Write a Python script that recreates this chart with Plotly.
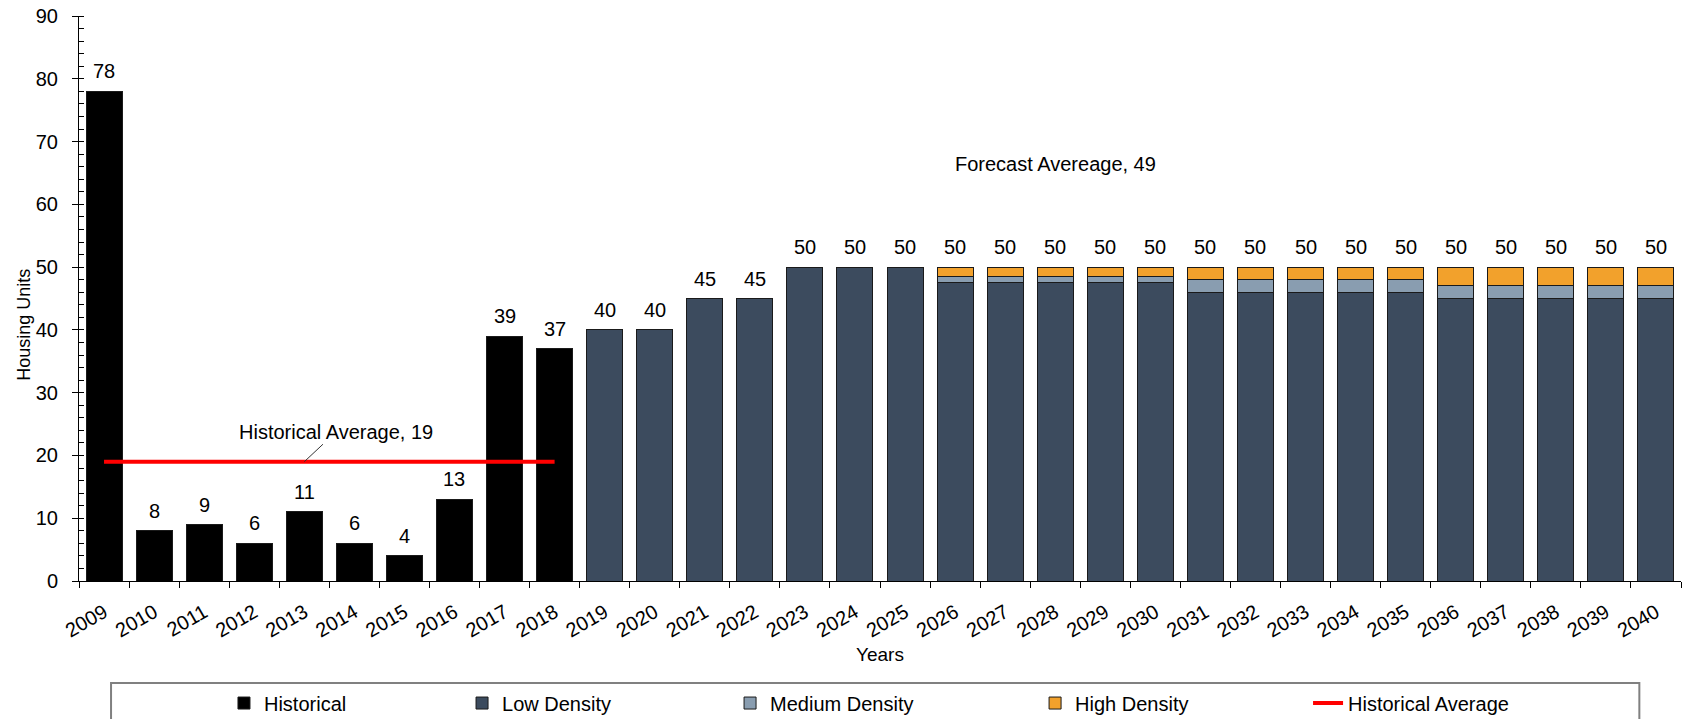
import plotly.graph_objects as go

# ---- data -------------------------------------------------------------
hist_years = ["2009", "2010", "2011", "2012", "2013", "2014", "2015", "2016", "2017", "2018"]
hist_units = [78, 8, 9, 6, 11, 6, 4, 13, 39, 37]

fc_years = [str(y) for y in range(2019, 2041)]
low_density = [40, 40, 45, 45, 50, 50, 50,
               47.5, 47.5, 47.5, 47.5, 47.5,
               46, 46, 46, 46, 46,
               45, 45, 45, 45, 45]
medium_density = [0, 0, 0, 0, 0, 0, 0,
                  1, 1, 1, 1, 1,
                  2, 2, 2, 2, 2,
                  2, 2, 2, 2, 2]
high_density = [0, 0, 0, 0, 0, 0, 0,
                1.5, 1.5, 1.5, 1.5, 1.5,
                2, 2, 2, 2, 2,
                3, 3, 3, 3, 3]

hist_avg = 19
hist_avg_span = ["2009", "2018"]
forecast_avg = 49

all_years = hist_years + fc_years
fc_totals = [round(l + m + h) for l, m, h in zip(low_density, medium_density, high_density)]


def cat_index(year):
    """Position of a year on the category axis (annotations need the index)."""
    return all_years.index(year)


# ---- styling ----------------------------------------------------------
FONT = "Arial, Liberation Sans, Helvetica, sans-serif"
C_HIST = "#000000"
C_LOW = "#3c4b5e"
C_MED = "#899db0"
C_HIGH = "#f2a12c"
C_AVG = "#ff0000"
OUTLINE = dict(color="#1a1a1a", width=1)

fig = go.Figure()

fig.add_trace(go.Bar(x=hist_years, y=hist_units, name="Historical", legend="legend",
                     marker=dict(color=C_HIST, line=OUTLINE)))
fig.add_trace(go.Bar(x=fc_years, y=low_density, name="Low Density", legend="legend2",
                     marker=dict(color=C_LOW, line=OUTLINE)))
fig.add_trace(go.Bar(x=fc_years, y=medium_density, name="Medium Density", legend="legend3",
                     marker=dict(color=C_MED, line=OUTLINE)))
fig.add_trace(go.Bar(x=fc_years, y=high_density, name="High Density", legend="legend4",
                     marker=dict(color=C_HIGH, line=OUTLINE)))
fig.add_trace(go.Scatter(x=hist_avg_span, y=[hist_avg] * len(hist_avg_span),
                         mode="lines", name="Historical Average", legend="legend5",
                         line=dict(color=C_AVG, width=4)))

# value labels above every bar
annotations = []
for yr, v in list(zip(hist_years, hist_units)) + list(zip(fc_years, fc_totals)):
    annotations.append(dict(x=cat_index(yr), y=v, xref="x", yref="y", text=str(v),
                            showarrow=False, xanchor="center", yanchor="bottom", yshift=7,
                            font=dict(size=20, color="#000")))

# average callouts
annotations.append(dict(x=cat_index("2013"), y=hist_avg, xref="x", yref="y",
                        text=f"Historical Average, {hist_avg}",
                        showarrow=True, arrowhead=0, arrowwidth=1, arrowcolor="#333",
                        ax=32, ay=-30, font=dict(size=20, color="#000")))
annotations.append(dict(x=cat_index("2028"), y=66.5, xref="x", yref="y",
                        text=f"Forecast Avereage, {forecast_avg}",
                        showarrow=False, xanchor="center", font=dict(size=20, color="#000")))

# y-axis title
annotations.append(dict(x=-0.0345, y=0.453, xref="paper", yref="paper",
                        xanchor="center", yanchor="middle",
                        text="Housing Units", textangle=-90, showarrow=False,
                        font=dict(size=18, color="#000")))

# one legend box per entry so the entries spread across the frame
legend_common = dict(orientation="h", xanchor="left", y=-0.216, yanchor="middle",
                     font=dict(size=20, color="#000"), bgcolor="rgba(0,0,0,0)",
                     borderwidth=0)
legend_x = [0.0905, 0.2391, 0.4064, 0.5968, 0.7672]

fig.update_layout(
    width=1684, height=719, autosize=False,
    margin=dict(l=79, r=3, t=16, b=138, autoexpand=False),
    barmode="stack", bargap=0.28,
    plot_bgcolor="white", paper_bgcolor="white",
    font=dict(family=FONT, size=20, color="#000"),
    showlegend=True,
    legend=dict(x=legend_x[0], **legend_common),
    legend2=dict(x=legend_x[1], **legend_common),
    legend3=dict(x=legend_x[2], **legend_common),
    legend4=dict(x=legend_x[3], **legend_common),
    legend5=dict(x=legend_x[4], **legend_common),
    annotations=annotations,
    shapes=[dict(type="rect", xref="paper", yref="paper",
                 x0=0.02, x1=0.974, y0=-0.1805, y1=-0.29,
                 line=dict(color="#808080", width=2), layer="below")],
)

fig.update_xaxes(type="category", categoryorder="array", categoryarray=all_years,
                 range=[-0.5, len(all_years) - 0.5], automargin=False,
                 showline=True, linecolor="#000", linewidth=1,
                 ticks="outside", ticklen=6, tickcolor="#000", tickson="boundaries",
                 tickangle=-30, tickfont=dict(size=20), ticklabelstandoff=11,
                 showgrid=False, zeroline=False,
                 title=dict(text="Years", font=dict(size=19), standoff=7))

fig.update_yaxes(range=[0, 90], dtick=10, showline=True, linecolor="#000", linewidth=1,
                 automargin=False,
                 ticks="outside", ticklen=6, tickcolor="#000", ticklabelstandoff=10,
                 tickfont=dict(size=20),
                 minor=dict(dtick=2, ticks="inside", ticklen=5, tickcolor="#000"),
                 showgrid=False, zeroline=False)

fig.write_html("out.html")
